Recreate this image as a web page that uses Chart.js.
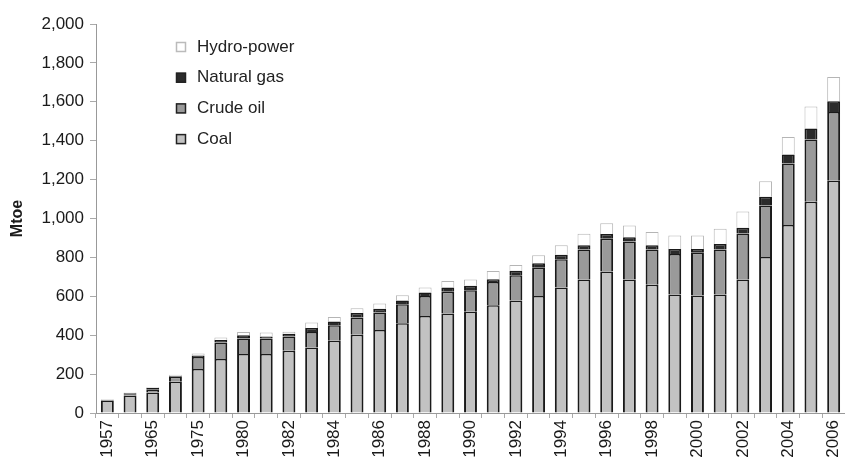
<!DOCTYPE html>
<html>
<head>
<meta charset="utf-8">
<script src="https://cdn.jsdelivr.net/npm/chart.js@4/dist/chart.umd.min.js"></script>
<style>
  html, body { margin: 0; padding: 0; background: #fff; overflow: hidden; }
  #wrap { width: 860px; height: 467px; }
</style>
</head>
<body>
<div id="wrap"><canvas id="energyChart" width="860" height="467"></canvas></div>
<script>
var years = ['1957', '1962', '1965', '1970', '1975', '1978', '1980', '1981', '1982', '1983',
    '1984', '1985', '1986', '1987', '1988', '1989', '1990', '1991', '1992', '1993',
    '1994', '1995', '1996', '1997', '1998', '1999', '2000', '2001', '2002', '2003',
    '2004', '2005', '2006'];

// Mtoe
var coal = [64, 90, 106, 161, 226, 277, 303, 303, 320, 337,
    371, 402, 427, 462, 499, 511, 520, 554, 578, 602,
    645, 687, 727, 687, 660, 609, 604, 609, 687, 802,
    966, 1086, 1194];
var crudeOil = [3, 6, 14, 26, 62, 85, 80, 80, 73, 80,
    80, 89, 90, 97, 103, 113, 111, 120, 130, 145,
    145, 154, 169, 195, 181, 208, 220, 232, 236, 265,
    317, 320, 354];
var naturalGas = [1, 6, 8, 4, 8, 13, 17, 10, 14, 20,
    19, 23, 19, 19, 17, 21, 23, 14, 23, 23,
    23, 21, 24, 21, 21, 26, 19, 28, 30, 45,
    46, 57, 55];
var hydroPower = [3, 4, 4, 6, 10, 13, 17, 21, 11, 28,
    24, 25, 27, 27, 26, 34, 33, 42, 30, 41,
    49, 60, 55, 61, 68, 70, 70, 78, 83, 80,
    90, 113, 124];

var yTicks = [0, 200, 400, 600, 800, 1000, 1200, 1400, 1600, 1800, 2000];

var font = "'Liberation Sans', Arial, sans-serif";

function series(label, data, color, edge) {
    return {
        label: label,
        data: data,
        backgroundColor: color,
        borderColor: edge || '#1a1a1a',
        // thick sides, thin line between stacked pieces
        borderWidth: edge ? { top: 1, left: 1, right: 1, bottom: 0 } : { top: 1.5, left: 2, right: 2, bottom: 0 },
        borderSkipped: false,
        barPercentage: 0.57,
        categoryPercentage: 1
    };
}

// legend in the upper left of the plot, top entry first
var boxLegend = {
    id: 'boxLegend',
    afterDraw: function(chart) {
        var ctx = chart.ctx;
        var area = chart.chartArea;
        var sets = chart.data.datasets.slice().reverse();
        ctx.save();
        ctx.font = '17px ' + font;
        ctx.textBaseline = 'middle';
        sets.forEach(function(ds, i) {
            var y = area.top + 23 + i * 30.7;
            var x = area.left + 80;
            ctx.fillStyle = ds.backgroundColor;
            ctx.fillRect(x, y - 5, 10, 10);
            ctx.strokeStyle = i === 0 ? '#bbb' : '#222';
            ctx.lineWidth = 1.5;
            ctx.strokeRect(x + 0.5, y - 4.5, 9, 9);
            ctx.fillStyle = '#222';
            ctx.fillText(ds.label, x + 21, y);
        });
        ctx.restore();
    }
};

var chart = new Chart(document.getElementById('energyChart'), {
    type: 'bar',
    data: {
        labels: years,
        datasets: [
            series('Coal', coal, '#c2c2c2'),
            series('Crude oil', crudeOil, '#9a9a9a'),
            series('Natural gas', naturalGas, '#2b2b2b'),
            series('Hydro-power', hydroPower, '#ffffff', '#b5b5b5')
        ]
    },
    options: {
        responsive: false,
        animation: false,
        layout: { padding: { top: 24, right: 15, left: 0, bottom: 0 } },
        plugins: {
            legend: { display: false },
            tooltip: { enabled: false }
        },
        scales: {
            x: {
                stacked: true,
                border: { color: '#999' },
                grid: { drawOnChartArea: false, offset: true, tickLength: 5, color: '#aaa' },
                ticks: {
                    autoSkip: false,
                    minRotation: 90,
                    maxRotation: 90,
                    padding: 2,
                    color: '#1a1a1a',
                    font: { family: font, size: 17 },
                    callback: function(value, index) {
                        return index % 2 === 0 ? years[index] : '';
                    }
                },
                afterFit: function(scale) { scale.height = 54; }
            },
            y: {
                stacked: true,
                min: 0,
                max: 2000,
                border: { color: '#999' },
                grid: { drawOnChartArea: false, tickLength: 6, color: '#aaa' },
                afterBuildTicks: function(scale) {
                    scale.ticks = yTicks.map(function(v) { return { value: v }; });
                },
                ticks: {
                    padding: 6,
                    color: '#1a1a1a',
                    font: { family: font, size: 17 },
                    callback: function(value) { return value.toLocaleString('en-US'); }
                },
                title: {
                    display: true,
                    text: 'Mtoe',
                    color: '#1a1a1a',
                    padding: { top: 8, bottom: 0 },
                    font: { family: font, size: 16, weight: 'bold' }
                },
                afterFit: function(scale) { scale.width = 96; }
            }
        }
    },
    plugins: [boxLegend]
});
</script>
</body>
</html>
